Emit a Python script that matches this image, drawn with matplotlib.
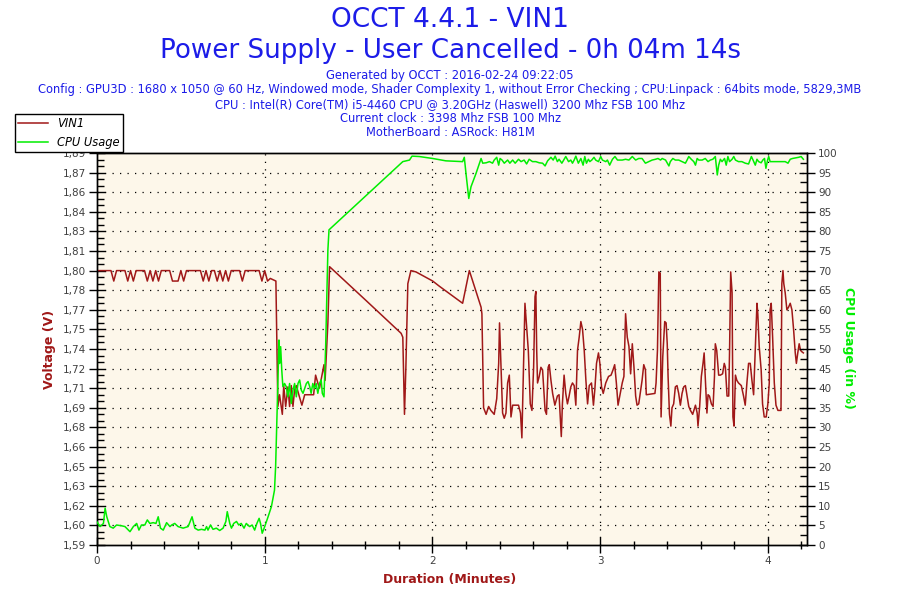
import matplotlib
matplotlib.use("Agg")
import matplotlib.pyplot as plt
from matplotlib.ticker import FixedLocator, FixedFormatter, MultipleLocator
from matplotlib.lines import Line2D

# ---------------- data ----------------
duration_sec = 254  # 0h 04m 14s

vin1_sec = [
    0, 1, 2, 3, 4, 5, 6, 7, 8, 9,
    10, 11, 12, 13, 14, 15, 16, 17, 18, 19,
    20, 21, 22, 23, 24, 25, 26, 27, 28, 29,
    30, 31, 32, 33, 34, 35, 36, 37, 38, 39,
    40, 41, 42, 43, 44, 45, 46, 47, 48, 49,
    50, 51, 52, 53, 54, 55, 56, 57, 58, 59,
    60, 61, 62, 63, 64,
    64.7, 65.3, 66.3, 66.8, 67.5, 68.3, 68.9, 69.5, 70.1, 70.7,
    71.3, 72.2, 73.3, 74.3, 75.5, 76.6, 77.5, 78.2, 79.0, 79.6,
    80.6, 81.2, 81.6, 82.6, 83.2, 96.3, 108.8, 109.4, 110.0, 110.5,
    111.2, 112.3, 114.1, 120.1, 122.5, 130.8, 133.2, 137.4, 137.7, 138.3,
    139.2, 140.1, 140.9, 142.1, 143.0, 143.7, 144.0, 144.5, 145.1, 145.7,
    146.3, 146.9, 147.5, 148.1, 148.7, 150.8, 151.5, 152.0, 152.5, 153.1,
    153.7, 154.3, 155.0, 155.6, 156.2, 156.7, 157.0, 157.3, 157.6, 158.2,
    158.8, 159.4, 160.3, 160.8, 161.4, 161.8, 162.4, 163.0, 163.8, 164.7,
    165.3, 166.1, 166.5, 167.1, 167.7, 168.3, 168.9, 169.5, 170.1, 170.7,
    171.3, 171.9, 172.5, 173.1, 173.7, 174.3, 174.9, 175.5, 176.1, 176.9,
    177.6, 178.1, 178.7, 179.4, 179.9, 180.5, 181.1, 182.0, 183.0, 183.9,
    184.6, 185.2, 185.8, 186.4, 187.9, 188.5, 189.1, 189.7, 190.3, 190.9,
    191.5, 192.1, 192.7, 193.2, 193.8, 194.4, 195.0, 195.6, 196.2, 196.5,
    199.6, 200.0, 200.5, 201.0, 201.5, 201.8, 202.4, 203.1, 203.6, 204.0,
    204.3, 204.8, 205.3, 205.7, 206.3, 206.9, 207.5, 208.1, 208.7, 209.3,
    209.9, 210.5, 211.1, 211.7, 212.3, 213.1, 214.1, 214.7, 215.0, 215.6,
    216.2, 216.8, 217.2, 217.6, 218.2, 218.6, 219.1, 219.8, 220.4, 220.9,
    221.2, 221.7, 222.4, 223.0, 223.8, 224.4, 224.8, 225.4, 226.0, 226.3,
    226.7, 227.2, 227.5, 227.9, 228.4, 228.9, 229.5, 230.5, 231.3, 231.9,
    232.5, 233.1, 233.7, 234.3, 234.9, 235.5, 236.1, 236.4, 236.9, 237.6,
    238.1, 238.7, 239.4, 240.0, 240.5, 240.8, 241.2, 241.7, 242.3, 242.9,
    243.6, 244.7, 245.0, 245.4, 245.7, 246.2, 246.8, 247.4, 248.0, 248.6,
    249.2, 249.8, 250.2, 250.7, 251.2, 251.7, 252.1, 252.7,
]
vin1_volt = [
    1.800, 1.800, 1.800, 1.800, 1.800, 1.800, 1.792, 1.800, 1.800, 1.800,
    1.800, 1.792, 1.800, 1.792, 1.800, 1.800, 1.800, 1.800, 1.792, 1.800,
    1.792, 1.800, 1.792, 1.800, 1.800, 1.800, 1.800, 1.792, 1.792, 1.792,
    1.800, 1.792, 1.800, 1.800, 1.800, 1.800, 1.800, 1.800, 1.792, 1.800,
    1.792, 1.800, 1.800, 1.792, 1.800, 1.792, 1.800, 1.792, 1.800, 1.800,
    1.800, 1.800, 1.792, 1.800, 1.800, 1.800, 1.800, 1.800, 1.800, 1.792,
    1.800, 1.792, 1.794, 1.793, 1.792,
    1.696, 1.705, 1.690, 1.712, 1.696, 1.711, 1.696, 1.712, 1.696, 1.709,
    1.712, 1.705, 1.697, 1.705, 1.705, 1.705, 1.705, 1.720, 1.714, 1.710,
    1.721, 1.728, 1.716, 1.760, 1.803, 1.777, 1.752, 1.749, 1.690, 1.726,
    1.790, 1.800, 1.799, 1.792, 1.788, 1.775, 1.800, 1.772, 1.767, 1.695,
    1.690, 1.696, 1.693, 1.690, 1.702, 1.729, 1.760, 1.729, 1.691, 1.687,
    1.691, 1.714, 1.720, 1.688, 1.697, 1.697, 1.691, 1.672, 1.719, 1.775,
    1.757, 1.739, 1.698, 1.693, 1.726, 1.780, 1.784, 1.739, 1.714, 1.719,
    1.726, 1.724, 1.693, 1.690, 1.726, 1.728, 1.716, 1.706, 1.697, 1.704,
    1.705, 1.673, 1.698, 1.720, 1.706, 1.698, 1.704, 1.711, 1.714, 1.712,
    1.697, 1.739, 1.749, 1.761, 1.755, 1.739, 1.716, 1.698, 1.712, 1.714,
    1.697, 1.709, 1.729, 1.737, 1.729, 1.711, 1.706, 1.714, 1.719, 1.720,
    1.724, 1.728, 1.714, 1.697, 1.714, 1.719, 1.767, 1.749, 1.742, 1.721,
    1.744, 1.726, 1.704, 1.697, 1.698, 1.707, 1.716, 1.728, 1.724, 1.705,
    1.706, 1.714, 1.739, 1.799, 1.798, 1.688, 1.734, 1.761, 1.760, 1.744,
    1.719, 1.690, 1.681, 1.695, 1.698, 1.711, 1.712, 1.706, 1.697, 1.706,
    1.711, 1.712, 1.704, 1.696, 1.693, 1.690, 1.697, 1.691, 1.681, 1.696,
    1.719, 1.729, 1.737, 1.719, 1.691, 1.705, 1.704, 1.698, 1.696, 1.719,
    1.744, 1.739, 1.720, 1.720, 1.721, 1.729, 1.726, 1.704, 1.704, 1.739,
    1.799, 1.783, 1.688, 1.681, 1.720, 1.716, 1.714, 1.712, 1.704, 1.697,
    1.714, 1.729, 1.729, 1.716, 1.705, 1.739, 1.775, 1.767, 1.742, 1.724,
    1.698, 1.688, 1.688, 1.698, 1.714, 1.770, 1.775, 1.749, 1.714, 1.697,
    1.693, 1.693, 1.790, 1.800, 1.790, 1.783, 1.770, 1.772, 1.775, 1.770,
    1.755, 1.737, 1.729, 1.737, 1.744, 1.739, 1.738, 1.737,
]

cpu_sec = [
    0.0, 1.1, 2.3, 2.9, 3.5, 4.6, 5.8, 7.0, 8.8, 10.0,
    11.8, 13.0, 14.2, 15.0, 15.9, 17.1, 18.0, 18.9, 20.1, 21.1,
    21.9, 22.7, 23.7, 24.9, 26.1, 26.7, 27.8, 29.0, 30.8, 32.6,
    34.0, 35.0, 36.2, 37.4, 38.6, 39.2, 39.7, 40.6, 41.5, 42.7,
    43.9, 45.1, 46.1, 46.6, 47.5, 48.1, 48.9, 49.9, 50.7, 51.6,
    52.6, 53.4, 54.6, 55.5, 56.4, 57.2, 58.0, 58.5, 59.1, 60.0,
    61.2, 62.4, 63.5, 63.9, 64.4, 64.7, 65.1, 65.3, 65.7, 66.1,
    66.5, 67.1, 67.7, 68.3, 68.9, 69.5, 70.1, 70.7, 71.3, 71.9,
    72.5, 73.1, 73.7, 74.9, 75.5, 76.1, 76.6, 77.2, 77.8, 78.4,
    79.0, 79.6, 80.2, 80.6, 81.2, 81.4, 81.8, 82.2, 82.6, 83.0,
    109.4, 111.8, 112.7, 115.3, 120.1, 124.8, 130.8, 131.4, 132.0, 133.0,
    133.8, 135.6, 137.4, 138.0, 139.2, 140.4, 141.5, 142.1, 143.0, 143.7,
    144.2, 144.9, 145.7, 146.9, 147.7, 148.7, 149.6, 150.8, 151.7, 152.8,
    153.7, 154.6, 155.8, 157.0, 158.2, 159.4, 160.3, 161.2, 162.4, 163.2,
    163.9, 164.7, 165.3, 166.3, 167.1, 167.7, 168.7, 169.5, 170.1, 170.7,
    171.3, 172.2, 173.1, 173.9, 174.5, 175.1, 175.8, 176.3, 177.0, 177.8,
    178.4, 179.4, 180.2, 180.8, 182.0, 182.6, 183.4, 184.4, 185.3, 186.2,
    187.9, 189.1, 190.3, 191.5, 192.7, 193.8, 195.0, 196.2, 197.4, 198.6,
    199.8, 200.7, 201.6, 202.2, 203.4, 204.6, 205.1, 206.0, 206.9, 208.1,
    209.3, 210.5, 211.1, 211.7, 212.6, 213.5, 214.1, 214.7, 215.3, 216.5,
    217.6, 218.6, 219.4, 220.3, 221.2, 221.6, 221.9, 222.4, 223.0, 223.6,
    224.5, 225.1, 225.7, 226.3, 227.2, 227.8, 228.4, 229.5, 230.7, 231.9,
    233.1, 234.1, 234.7, 235.5, 236.1, 236.7, 237.6, 238.2, 238.8, 239.3,
    239.9, 240.3, 240.8, 243.8, 246.2, 247.2, 248.0, 248.8, 251.0, 251.9,
    252.7,
]
cpu_pct = [
    5.9, 4.7, 5.5, 9.4, 7.2, 4.7, 4.3, 5.1, 4.9, 4.7,
    3.4, 4.7, 5.5, 3.8, 5.1, 5.1, 6.4, 5.5, 5.7, 5.5,
    7.2, 4.3, 3.8, 5.7, 4.7, 5.1, 5.5, 4.7, 4.3, 4.7,
    7.2, 4.3, 3.8, 4.0, 3.8, 4.7, 3.8, 5.1, 4.0, 4.3,
    3.7, 4.3, 6.0, 8.5, 5.5, 4.3, 5.5, 6.0, 5.1, 5.5,
    4.3, 5.5, 4.7, 5.1, 3.8, 5.5, 6.8, 5.5, 3.0, 4.7,
    7.2, 9.8, 14.0, 20.0, 32.7, 41.2, 52.3, 46.3, 50.6, 44.6,
    40.4, 41.2, 40.4, 37.8, 41.2, 36.1, 39.5, 41.2, 37.8, 41.2,
    42.1, 39.5, 38.7, 41.2, 41.7, 40.4, 38.7, 41.2, 39.9, 41.2,
    38.7, 41.2, 42.1, 38.7, 37.8, 42.1, 50.6, 63.3, 75.3, 80.4,
    97.8, 98.2, 99.2, 99.1, 98.6, 98.0, 97.8, 98.9, 94.8, 88.4,
    91.4, 94.8, 98.6, 97.4, 97.5, 97.8, 97.4, 98.2, 98.9, 96.9,
    98.6, 98.2, 97.4, 98.2, 97.4, 98.2, 97.4, 98.4, 97.8, 98.2,
    97.2, 98.4, 97.8, 97.8, 97.5, 97.4, 96.7, 98.0, 98.9, 98.2,
    99.2, 97.8, 98.4, 97.4, 98.4, 99.1, 97.8, 98.2, 97.4, 98.2,
    99.2, 97.4, 98.6, 96.9, 99.1, 97.4, 98.4, 97.8, 98.2, 98.9,
    98.2, 97.8, 99.1, 98.2, 97.8, 98.2, 96.9, 98.4, 99.1, 98.2,
    98.2, 98.4, 98.2, 99.1, 98.2, 98.6, 98.6, 97.4, 97.8, 98.2,
    98.4, 98.6, 98.2, 98.6, 98.2, 96.7, 97.8, 98.6, 98.2, 98.2,
    97.8, 97.4, 98.2, 99.1, 98.4, 97.8, 96.9, 98.6, 98.2, 98.2,
    98.6, 97.8, 98.2, 98.4, 99.1, 96.5, 94.4, 96.9, 98.4, 97.8,
    98.6, 96.9, 99.1, 97.8, 98.4, 99.1, 98.2, 97.8, 97.8, 97.4,
    97.2, 99.1, 98.2, 96.9, 98.4, 97.8, 97.5, 98.2, 98.6, 96.1,
    98.2, 99.1, 97.8, 97.8, 97.8, 97.4, 98.4, 98.6, 98.9, 99.1,
    98.4,
]

volt_ticks = [1.59, 1.605, 1.62, 1.635, 1.65, 1.665, 1.68, 1.695, 1.71, 1.725,
              1.74, 1.755, 1.77, 1.785, 1.80, 1.815, 1.83, 1.845, 1.86, 1.875, 1.89]
volt_labels = ["1,59", "1,60", "1,62", "1,63", "1,65", "1,66", "1,68", "1,69", "1,71", "1,72",
               "1,74", "1,75", "1,77", "1,78", "1,80", "1,81", "1,83", "1,84", "1,86", "1,87", "1,89"]
cpu_ticks = [0, 5, 10, 15, 20, 25, 30, 35, 40, 45, 50, 55, 60, 65, 70, 75, 80, 85, 90, 95, 100]
minute_ticks = [0, 1, 2, 3, 4]

title_lines = ["OCCT 4.4.1 - VIN1", "Power Supply - User Cancelled - 0h 04m 14s"]
info_lines = [
    "Generated by OCCT : 2016-02-24 09:22:05",
    "Config : GPU3D : 1680 x 1050 @ 60 Hz, Windowed mode, Shader Complexity 1, without Error Checking ; CPU:Linpack : 64bits mode, 5829,3MB",
    "CPU : Intel(R) Core(TM) i5-4460 CPU @ 3.20GHz (Haswell) 3200 Mhz FSB 100 Mhz",
    "Current clock : 3398 Mhz FSB 100 Mhz",
    "MotherBoard : ASRock: H81M",
]

# ---------------- style ----------------
RED = "#A01818"
GREEN = "#00EE00"
BLUE = "#1C1CE8"
TICKC = "#404040"
BG = "#FDF7EA"

plt.rcParams["font.family"] = ["DejaVu Sans"]

fig = plt.figure(figsize=(9, 6), dpi=100)
fig.patch.set_facecolor("white")
W, H = 900.0, 600.0
ax = fig.add_axes([97 / W, 55 / H, 710 / W, 392 / H])
ax.set_facecolor(BG)
ax2 = ax.twinx()

vin1_min = [s / 60.0 for s in vin1_sec]
cpu_min = [s / 60.0 for s in cpu_sec]

ax.plot(vin1_min, vin1_volt, color=RED, lw=1.1, zorder=3)
ax2.plot(cpu_min, cpu_pct, color=GREEN, lw=1.1, zorder=3)

ax.set_xlim(0, duration_sec / 60.0)
ax.set_ylim(volt_ticks[0], volt_ticks[-1])
ax2.set_ylim(cpu_ticks[0], cpu_ticks[-1])

# grid (dotted)
for y in volt_ticks[1:-1]:
    ax.axhline(y, color="black", lw=0.9, ls=(0, (1, 5)), zorder=1)
for x in minute_ticks[1:]:
    ax.axvline(x, color="black", lw=0.9, ls=(0, (1, 5)), zorder=1)

# ticks
ax.yaxis.set_major_locator(FixedLocator(volt_ticks))
ax.yaxis.set_major_formatter(FixedFormatter(volt_labels))
ax.yaxis.set_minor_locator(MultipleLocator(0.005))
ax2.yaxis.set_major_locator(FixedLocator(cpu_ticks))
ax2.yaxis.set_minor_locator(MultipleLocator(2.5))
ax.xaxis.set_major_locator(FixedLocator(minute_ticks))
ax.xaxis.set_minor_locator(MultipleLocator(0.2))

ax.tick_params(axis="y", which="major", direction="inout", length=12, width=1,
               labelsize=7.5, labelcolor=TICKC, pad=2)
ax.tick_params(axis="y", which="minor", direction="in", length=5, width=1)
ax2.tick_params(axis="y", which="major", direction="inout", length=12, width=1,
                labelsize=7.5, labelcolor=TICKC, pad=2)
ax2.tick_params(axis="y", which="minor", direction="in", length=5, width=1)
ax.tick_params(axis="x", which="major", direction="inout", length=12, width=1,
               labelsize=7.5, labelcolor=TICKC, pad=2)
ax.tick_params(axis="x", which="minor", direction="inout", length=6, width=1)

for a in (ax, ax2):
    for sp in a.spines.values():
        sp.set_color("black")
        sp.set_linewidth(1)

# axis labels
fig.text(50 / W, 1 - 349 / H, "Voltage (V)", rotation=90, color=RED, fontweight="bold",
         fontsize=9, ha="center", va="center")
fig.text(848 / W, 1 - 348 / H, "CPU Usage (in %)", rotation=270, color=GREEN, fontweight="bold",
         fontsize=9, ha="center", va="center")
fig.text(450 / W, 1 - 580 / H, "Duration (Minutes)", color=RED, fontweight="bold",
         fontsize=9, ha="center", va="center")

# titles
fig.text(0.5, 1 - 20 / H, title_lines[0], color=BLUE, fontsize=19, ha="center", va="center")
fig.text(0.5, 1 - 51 / H, title_lines[1], color=BLUE, fontsize=18.8, ha="center", va="center")
for yy, line in zip([75, 90, 104.5, 119, 133], info_lines):
    fig.text(0.5, 1 - yy / H, line, color=BLUE, fontsize=8.3, ha="center", va="center")

# legend
handles = [Line2D([], [], color=RED, lw=1.1), Line2D([], [], color=GREEN, lw=1.1)]
leg = fig.legend(handles, ["VIN1", "CPU Usage"], loc="upper left",
                 bbox_to_anchor=(15 / W, 1 - 114 / H), frameon=True, fancybox=False,
                 edgecolor="black", framealpha=1, borderaxespad=0, borderpad=0.25,
                 handlelength=2.6, handletextpad=0.8, labelspacing=0.5,
                 prop={"style": "italic", "size": 8.3})
leg.get_frame().set_linewidth(1)

fig.savefig("out.png", dpi=100, facecolor="white")
